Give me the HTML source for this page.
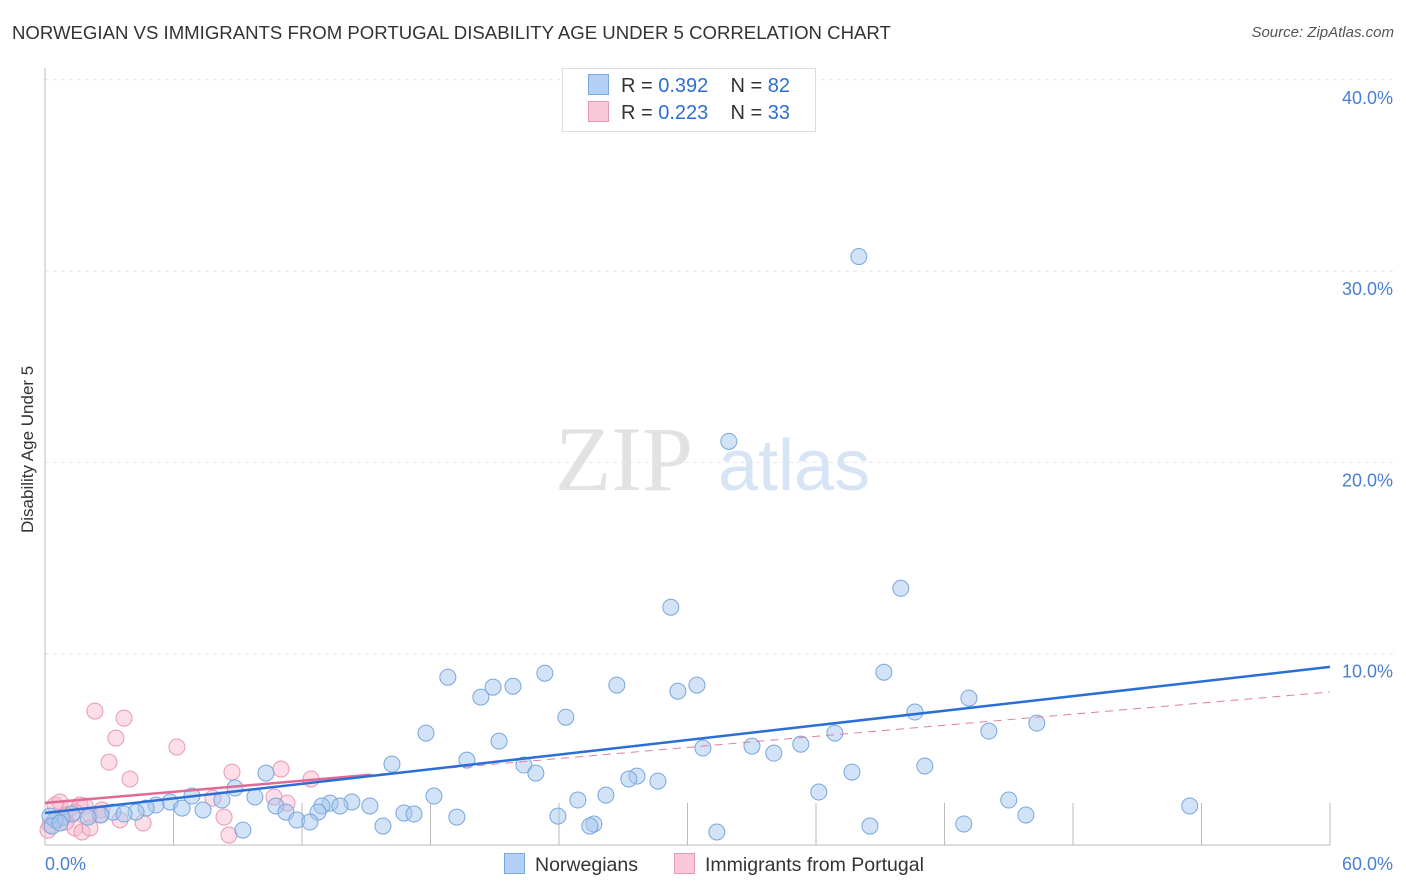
<!DOCTYPE html>
<html><head><meta charset="utf-8"><style>
body{margin:0;background:#fff;font-family:"Liberation Sans",sans-serif;}
#wrap{position:relative;width:1406px;height:892px;overflow:hidden;}
.t{position:absolute;white-space:nowrap;}
</style></head><body>
<div id="wrap">
<div class="t" style="left:12px;top:22px;font-size:18.6px;color:#333;">NORWEGIAN VS IMMIGRANTS FROM PORTUGAL DISABILITY AGE UNDER 5 CORRELATION CHART</div>
<div class="t" style="right:12px;top:24px;font-size:15px;color:#555;font-style:italic;">Source: ZipAtlas.com</div>
<div class="t" style="left:-52px;top:443px;font-size:17px;color:#333;transform:rotate(-90deg);width:160px;text-align:center;">Disability Age Under 5</div>
<svg id="svg" width="1406" height="892" style="position:absolute;left:0;top:0"></svg>
</div>
<script>
const blueX=[38.0,31.93,39.96,29.22,18.81,23.34,39.17,26.70,20.92,21.85,30.44,29.55,20.35,43.14,40.62,24.32,17.79,46.31,44.07,21.20,36.88,35.29,30.72,33.01,34.03,19.70,16.20,22.36,22.92,37.68,41.08,27.64,27.26,28.62,10.32,8.87,6.86,36.13,18.16,26.19,24.88,45.0,53.45,8.26,9.80,5.84,5.18,4.72,6.40,7.38,3.17,4.25,3.69,2.61,2.01,1.26,0.79,0.47,0.23,10.78,11.25,13.31,12.93,14.33,13.77,15.17,12.75,16.76,17.23,11.76,12.37,19.23,23.95,45.80,15.78,25.63,25.44,38.52,42.90,9.24,31.37,0.33,0.70];
const blueY=[30.76,21.1,13.42,12.43,8.77,8.98,9.03,8.36,8.25,8.30,8.36,8.04,7.73,7.68,6.95,6.68,5.85,6.37,5.95,5.43,5.85,5.27,5.07,5.17,4.80,4.44,4.23,4.18,3.76,3.81,4.13,3.60,3.45,3.34,3.76,2.98,2.56,2.77,2.56,2.61,2.35,2.35,2.04,2.35,2.51,2.25,2.09,1.93,1.93,1.83,1.72,1.72,1.62,1.57,1.46,1.62,1.41,1.31,1.51,2.04,1.72,2.19,2.04,2.25,2.04,2.04,1.72,1.67,1.62,1.31,1.20,1.46,1.51,1.57,0.99,1.10,0.99,0.99,1.10,0.78,0.68,0.99,1.15];
const pinkX=[2.33,3.69,3.31,6.16,2.99,3.97,8.73,11.02,12.42,0.47,0.70,1.17,1.63,1.87,0.93,1.40,2.10,2.66,3.50,4.58,7.84,10.69,11.30,8.36,0.23,1.40,1.73,2.10,8.59,0.14,0.56,2.57,0.98];
const pinkY=[7.0,6.63,5.59,5.12,4.33,3.45,3.81,3.97,3.45,2.09,2.25,1.93,2.09,2.04,1.57,1.72,1.57,1.83,1.31,1.15,2.45,2.51,2.19,1.46,1.04,0.89,0.68,0.89,0.52,0.78,1.31,1.57,1.20];
const blueTrend=[1.67,9.31];
const pinkTrend=[2.2,8.0];
const yTicks=[10,20,30,40];
const yTickLabels=["10.0%","20.0%","30.0%","40.0%"];
const x0=45,x1=1330,y0=845;
const X=v=>x0+v*(x1-x0)/60;
const Y=v=>y0-v*19.13;
const svg=document.getElementById('svg');
const NS='http://www.w3.org/2000/svg';
function mk(t,a){const e=document.createElementNS(NS,t);for(const k in a)e.setAttribute(k,a[k]);svg.appendChild(e);return e;}
yTicks.forEach((v,i)=>{
 const g=mk('line',{x1:x0,x2:1395,y1:Y(v),y2:Y(v),stroke:'#e6e6e6','stroke-dasharray':'4,4'});
 
 
 const t=mk('text',{x:1393,y:Y(v)+24,'text-anchor':'end','font-size':18,fill:'#4a7fd0','font-family':'Liberation Sans'});
 t.textContent=yTickLabels[i];
 
 
});
const ax=mk('line',{x1:x0,x2:x0,y1:68,y2:y0,stroke:'#bbb'});


const bx=mk('line',{x1:x0,x2:x1,y1:y0,y2:y0,stroke:'#bbb'});


for(let i=1;i<=10;i++){const t=mk('line',{x1:X(i*6),x2:X(i*6),y1:y0,y2:y0-42,stroke:'#bbb'});
 
 }
[["0.0%",45,'start'],["60.0%",1393,'end']].forEach(d=>{const t=mk('text',{x:d[1],y:870,'text-anchor':d[2],'font-size':18,fill:'#4a7fd0','font-family':'Liberation Sans'});t.textContent=d[0];
 
 });
const w1=mk('text',{x:555,y:490,'font-size':92,fill:'#e2e2e2','font-family':'Liberation Serif'});w1.textContent='ZIP';


const w2=mk('text',{x:718,y:490,'font-size':72,fill:'#d6e4f6','font-family':'Liberation Sans'});w2.textContent='atlas';


pinkX.forEach((v,i)=>{const c=mk('circle',{cx:X(v),cy:Y(pinkY[i]),r:8,fill:'rgba(246,182,203,0.45)',stroke:'#e89ab4','stroke-width':1});
 
 });
blueX.forEach((v,i)=>{const c=mk('circle',{cx:X(v),cy:Y(blueY[i]),r:8,fill:'rgba(165,199,240,0.5)',stroke:'#7aa6dd','stroke-width':1});
 
 });
const pd=mk('line',{x1:X(0),y1:Y(pinkTrend[0]),x2:X(60),y2:Y(pinkTrend[1]),stroke:'#e07fa0','stroke-width':1,'stroke-dasharray':'8,6'});


const ps=mk('line',{x1:X(0),y1:Y(pinkTrend[0]),x2:X(15.2),y2:Y(pinkTrend[0]+(pinkTrend[1]-pinkTrend[0])*15.2/60),stroke:'#e06a95','stroke-width':2.5});


const bl=mk('line',{x1:X(0),y1:Y(blueTrend[0]),x2:X(60),y2:Y(blueTrend[1]),stroke:'#2a6fd6','stroke-width':2.5});


</script>
<div class="t" style="left:562px;top:68px;width:252px;height:62px;border:1px solid #ddd;background:#fff;"></div>
<div class="t" style="left:588px;top:74px;font-size:20px;color:#333;"><span style="display:inline-block;width:19px;height:19px;background:#b4d0f4;border:1px solid #7aa6dd;vertical-align:-3px;margin-right:12px"></span>R = <span style="color:#2a6fd6">0.392</span>&nbsp;&nbsp;&nbsp; N = <span style="color:#2a6fd6">82</span></div>
<div class="t" style="left:588px;top:101px;font-size:20px;color:#333;"><span style="display:inline-block;width:19px;height:19px;background:#f8c8d8;border:1px solid #e89ab4;vertical-align:-3px;margin-right:12px"></span>R = <span style="color:#2a6fd6">0.223</span>&nbsp;&nbsp;&nbsp; N = <span style="color:#2a6fd6">33</span></div>
<div class="t" style="left:504px;top:853px;font-size:19.5px;color:#333;"><span style="display:inline-block;width:19px;height:19px;background:#b4d0f4;border:1px solid #7aa6dd;vertical-align:-3px;margin-right:10px"></span>Norwegians</div>
<div class="t" style="left:674px;top:853px;font-size:19.5px;color:#333;"><span style="display:inline-block;width:19px;height:19px;background:#f8c8d8;border:1px solid #e89ab4;vertical-align:-3px;margin-right:10px"></span>Immigrants from Portugal</div>
</body></html>
